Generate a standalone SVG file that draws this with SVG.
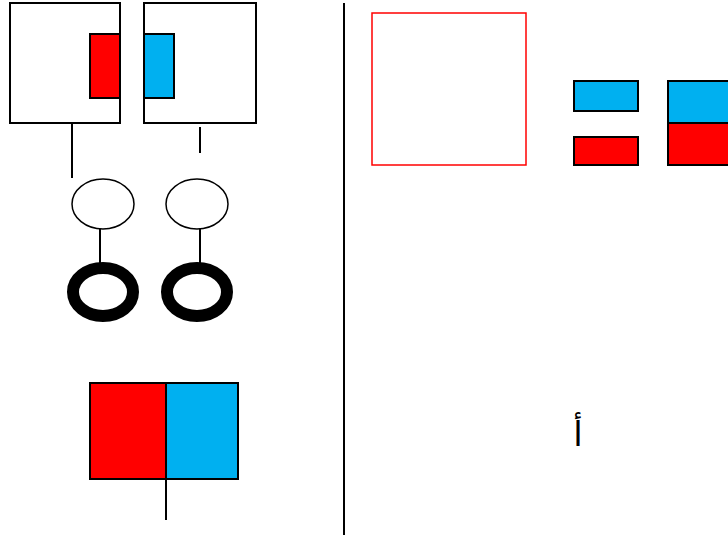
<svg xmlns="http://www.w3.org/2000/svg" width="728" height="535" viewBox="0 0 728 535">
<style>
.k{stroke:#000;stroke-width:2;fill:none}
.w{fill:#fff;stroke:#000;stroke-width:2}
.r{fill:#ff0000;stroke:#000;stroke-width:2}
.b{fill:#00b0f0;stroke:#000;stroke-width:2}
.ring{fill:none;stroke:#000;stroke-width:12}
</style>
<rect width="728" height="535" fill="#fff"/>
<g id="connectors">
<line class="k" x1="72" y1="123" x2="72" y2="178"/>
<line class="k" x1="200" y1="127" x2="200" y2="153"/>
<line class="k" x1="100" y1="229" x2="100" y2="264"/>
<line class="k" x1="200" y1="229" x2="200" y2="264"/>
<line class="k" x1="166" y1="479" x2="166" y2="520"/>
<line class="k" x1="344" y1="3" x2="344" y2="535"/>
</g>
<g id="box1"><rect class="w" x="10" y="3" width="110" height="120"/><rect class="r" x="90" y="34" width="30" height="64"/></g>
<g id="box2"><rect class="w" x="144" y="3" width="112" height="120"/><rect class="b" x="144" y="34" width="30" height="64"/></g>
<g id="ellipse1"><ellipse cx="103" cy="204" rx="31" ry="25" fill="#fff" stroke="#000" stroke-width="1.5"/></g>
<g id="ellipse2"><ellipse cx="197" cy="204" rx="31" ry="25" fill="#fff" stroke="#000" stroke-width="1.5"/></g>
<g id="ring1"><ellipse class="ring" cx="103" cy="292" rx="30" ry="24"/></g>
<g id="ring2"><ellipse class="ring" cx="197" cy="292" rx="30" ry="24"/></g>
<g id="bottombox"><rect class="r" x="90" y="383" width="76" height="96"/><rect class="b" x="166" y="383" width="72" height="96"/></g>
<g id="redsquare"><rect x="372" y="13" width="154" height="152" fill="none" stroke="#ff0000" stroke-width="1.5"/></g>
<g id="smallblue"><rect class="b" x="574" y="81" width="64" height="30"/></g>
<g id="smallred"><rect class="r" x="574" y="137" width="64" height="28"/></g>
<g id="stack"><rect class="b" x="668" y="81" width="70" height="42"/><rect class="r" x="668" y="123" width="70" height="42"/></g>
<g id="label"><text x="578" y="446" font-family="DejaVu Sans, sans-serif" font-size="34" text-anchor="middle">أ</text></g>
</svg>
